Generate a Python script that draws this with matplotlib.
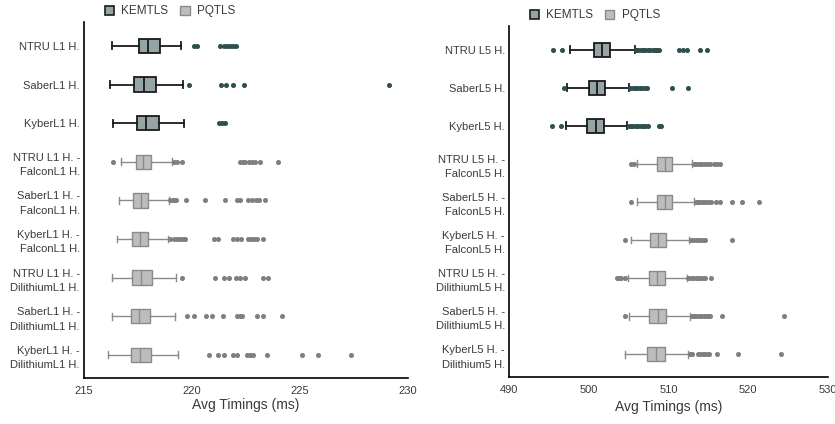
import matplotlib.pyplot as plt
from matplotlib.patches import Patch

plt.rcParams['font.family'] = ['Liberation Sans', 'DejaVu Sans']

# ---- level 1 ----
labels_l1 = ['NTRU L1 H.', 'SaberL1 H.', 'KyberL1 H.',
             'NTRU L1 H. -\nFalconL1 H.', 'SaberL1 H. -\nFalconL1 H.', 'KyberL1 H. -\nFalconL1 H.',
             'NTRU L1 H. -\nDilithiumL1 H.', 'SaberL1 H. -\nDilithiumL1 H.', 'KyberL1 H. -\nDilithiumL1 H.']
whislo_l1 = [216.28, 216.20, 216.33, 216.70, 216.60, 216.54, 216.31, 216.28, 216.11]
q1_l1 = [217.53, 217.31, 217.47, 217.41, 217.28, 217.24, 217.20, 217.16, 217.16]
med_l1 = [217.95, 217.76, 217.89, 217.75, 217.64, 217.59, 217.62, 217.56, 217.61]
q3_l1 = [218.52, 218.32, 218.46, 218.09, 217.96, 217.95, 218.13, 218.06, 218.09]
whishi_l1 = [219.49, 219.58, 219.63, 219.06, 218.94, 218.87, 219.27, 219.23, 219.33]
fliers_l1 = [
    [220.10, 220.25, 221.30, 221.48, 221.60, 221.76, 221.88, 222.04],
    [219.86, 221.34, 221.57, 221.91, 222.41, 229.12],
    [221.27, 221.40, 221.55],
    [216.33, 219.17, 219.32, 219.54, 222.22, 222.35, 222.47, 222.62, 222.78, 222.93, 223.15, 223.97],
    [219.00, 219.10, 219.15, 219.25, 219.71, 220.62, 221.54, 222.07, 222.22, 222.57, 222.76, 222.94, 223.10, 223.36],
    [219.00, 219.15, 219.30, 219.45, 219.60, 219.68, 221.03, 221.22, 221.91, 222.07, 222.28, 222.57, 222.73,
     222.88, 222.99, 223.30],
    [219.52, 221.06, 221.50, 221.71, 222.04, 222.22, 222.45, 223.30, 223.50],
    [219.75, 220.11, 220.65, 220.91, 221.45, 222.07, 222.22, 222.33, 223.02, 223.30, 224.15],
    [220.79, 221.19, 221.50, 221.91, 222.07, 222.53, 222.69, 222.84, 223.49, 225.08, 225.85, 227.36],
]

# ---- level 5 ----
labels_l5 = ['NTRU L5 H.', 'SaberL5 H.', 'KyberL5 H.',
             'NTRU L5 H. -\nFalconL5 H.', 'SaberL5 H. -\nFalconL5 H.', 'KyberL5 H. -\nFalconL5 H.',
             'NTRU L5 H. -\nDilithiumL5 H.', 'SaberL5 H. -\nDilithiumL5 H.', 'KyberL5 H. -\nDilithium5 H.']
whislo_l5 = [497.6, 497.3, 497.1, 506.1, 506.0, 505.25, 504.9, 505.0, 504.5]
q1_l5 = [500.6, 500.0, 499.8, 508.6, 508.6, 507.7, 507.5, 507.6, 507.3]
med_l5 = [501.6, 501.0, 500.9, 509.5, 509.5, 508.7, 508.5, 508.7, 508.4]
q3_l5 = [502.7, 502.1, 501.9, 510.5, 510.5, 509.7, 509.5, 509.7, 509.5]
whishi_l5 = [505.75, 505.1, 504.8, 513.0, 513.25, 512.6, 512.3, 512.75, 512.4]
fliers_l5 = [
    [495.54, 496.7, 505.9, 506.2, 506.5, 506.8, 507.1, 507.4, 507.7, 508.0, 508.3, 508.6, 508.75,
     511.3, 511.8, 512.3, 513.9, 514.8],
    [496.9, 505.2, 505.5, 505.8, 506.1, 506.4, 506.7, 507.0, 507.3, 510.4, 512.5],
    [495.4, 496.5, 505.0, 505.3, 505.6, 505.9, 506.2, 506.5, 506.8, 507.1, 507.4, 508.75, 509.1],
    [505.3, 505.7, 513.2, 513.5, 513.8, 514.1, 514.4, 514.8, 515.2, 515.7, 516.1, 516.4],
    [505.3, 513.4, 513.7, 514.0, 514.3, 514.6, 515.0, 515.3, 516.0, 516.5, 518.0, 519.2, 521.4],
    [504.5, 512.8, 513.1, 513.4, 513.7, 514.0, 514.3, 514.6, 518.0],
    [503.5, 503.8, 504.1, 504.5, 512.5, 512.8, 513.1, 513.4, 513.7, 514.0, 514.3, 514.6, 515.3],
    [504.5, 512.9, 513.2, 513.5, 513.8, 514.1, 514.4, 514.7, 515.0, 515.25, 516.7, 524.5],
    [512.7, 512.9, 513.7, 514.0, 514.3, 514.6, 514.9, 515.1, 516.1, 518.75, 524.1],
]

protocol = ['KEMTLS'] * 3 + ['PQTLS'] * 6

styles = {
    'KEMTLS': dict(face='#95a5a6', edge='#1a1a1a', flier='#2f4f4f', lw=1.3),
    'PQTLS': dict(face='#bdbdbd', edge='#8a8a8a', flier='#7f7f7f', lw=1.0),
}


def draw(ax, labels, whislo, q1, med, q3, whishi, fliers, xlim, xticks, legend_y, labelpad):
    for i in range(len(labels)):
        st = styles[protocol[i]]
        stats = [dict(med=med[i], q1=q1[i], q3=q3[i], whislo=whislo[i], whishi=whishi[i],
                      fliers=fliers[i], label=labels[i])]
        ax.bxp(stats, positions=[i], widths=0.37, vert=False, patch_artist=True,
               capwidths=0.18,
               boxprops=dict(facecolor=st['face'], edgecolor=st['edge'], linewidth=st['lw']),
               medianprops=dict(color=st['edge'], linewidth=st['lw']),
               whiskerprops=dict(color=st['edge'], linewidth=st['lw']),
               capprops=dict(color=st['edge'], linewidth=st['lw']),
               flierprops=dict(marker='o', markersize=2.6, markerfacecolor=st['flier'],
                               markeredgecolor=st['flier']))
    ax.set_yticks(range(len(labels)))
    ax.set_yticklabels(labels, fontsize=8, color='#3a3a3a')
    for t in ax.get_yticklabels():
        t.set_linespacing(1.55)
    ax.set_ylim(8.6, -0.62)
    ax.set_xlim(*xlim)
    ax.set_xticks(xticks)
    ax.tick_params(axis='x', labelsize=8, colors='#3a3a3a', length=0, pad=6)
    ax.tick_params(axis='y', length=0, pad=3)
    ax.set_xlabel('Avg Timings (ms)', fontsize=10, color='#3a3a3a', labelpad=labelpad)
    for s in ['top', 'right']:
        ax.spines[s].set_visible(False)
    for s in ['left', 'bottom']:
        ax.spines[s].set_color('black')
        ax.spines[s].set_linewidth(1.2)
    handles = [Patch(facecolor=styles['KEMTLS']['face'], edgecolor='#1a1a1a', linewidth=1.2, label='KEMTLS'),
               Patch(facecolor=styles['PQTLS']['face'], edgecolor='#8a8a8a', linewidth=1.0, label='PQTLS')]
    ax.legend(handles=handles, loc='lower left', bbox_to_anchor=(0.05, legend_y), ncol=2, frameon=False,
              fontsize=8.5, handlelength=0.8, handleheight=0.8, handletextpad=0.6, columnspacing=1.0,
              borderaxespad=0, labelcolor='#3a3a3a')


fig = plt.figure(figsize=(8.35, 4.24), dpi=100)
ax1 = fig.add_axes([84 / 835, 1 - 378 / 424, (408 - 84) / 835, (378 - 22) / 424])
ax2 = fig.add_axes([509 / 835, 1 - 377 / 424, (828 - 509) / 835, (377 - 26) / 424])

draw(ax1, labels_l1, whislo_l1, q1_l1, med_l1, q3_l1, whishi_l1, fliers_l1, (215, 230), [215, 220, 225, 230],
     1.0, 1)
draw(ax2, labels_l5, whislo_l5, q1_l5, med_l5, q3_l5, whishi_l5, fliers_l5, (490, 530),
     [490, 500, 510, 520, 530], 1.0, 3)

fig.savefig('out.png', dpi=100)
